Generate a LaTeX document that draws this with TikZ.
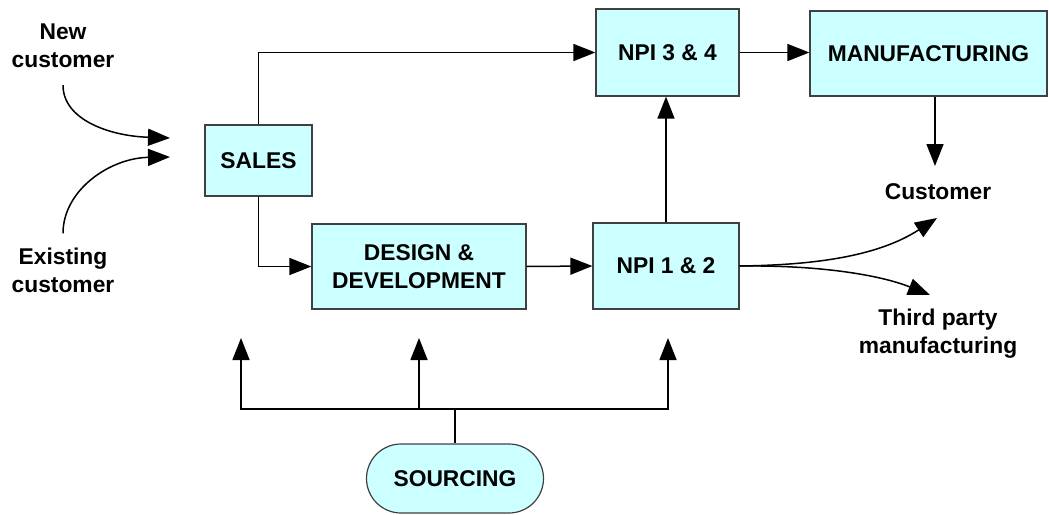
\documentclass[tikz,border=0pt]{standalone}
\usepackage{fontspec}
\setmainfont{Liberation Sans}
\usetikzlibrary{arrows.meta,shapes.misc}
\definecolor{boxfill}{HTML}{CCFFFF}
\definecolor{boxline}{HTML}{404040}
\tikzset{
  box/.style={draw=boxline, line width=1.2pt, fill=boxfill, inner sep=0pt, align=center,
    font=\fontsize{22.8}{28}\selectfont\bfseries},
  lbl/.style={inner sep=0pt, align=center, font=\fontsize{22.8}{28}\selectfont\bfseries},
  conn/.style={line width=1.5pt, draw=black},
  arr/.style={conn, -{Triangle[length=22pt,width=17pt]}},
}
\begin{document}
\begin{tikzpicture}[x=1pt,y=-1pt]
\useasboundingbox (0,0) rectangle (1049,514);
% boxes
\node[box, minimum width=107pt, minimum height=71pt] (sales) at (258.5,160.5) {SALES};
\node[box, minimum width=214pt, minimum height=85pt] (design) at (419,266.5) {DESIGN \&\\DEVELOPMENT};
\node[box, minimum width=146pt, minimum height=86pt] (npi12) at (666,266) {NPI 1 \& 2};
\node[box, minimum width=143pt, minimum height=87pt] (npi34) at (667.5,52.5) {NPI 3 \& 4};
\node[box, minimum width=237pt, minimum height=85pt] (manuf) at (928.5,53.5) {MANUFACTURING};
\node[box, rounded rectangle, minimum width=177pt, minimum height=69pt] (sourcing) at (455,478.5) {SOURCING};
% labels
\node[lbl] (newc) at (63,46) {New\\customer};
\node[lbl] (existc) at (63,270) {Existing\\customer};
\node[lbl] (customer) at (938,192) {Customer};
\node[lbl] (third) at (938,334) {Third party\\manufacturing};
% free ends
\coordinate (newtip) at (170,138);
\coordinate (exitip) at (170,157);
\coordinate (custtip) at (935,166);
\coordinate (c2tip) at (937,218);
\coordinate (thtip) at (930,295);
\coordinate (junc) at (455,409);
\coordinate (s1) at (241,338);
\coordinate (s2) at (419,338);
\coordinate (s3) at (668,338);
% connectors
\draw[arr] (newc.south) ++(0,17) .. controls (63,120) and (110,136) .. (newtip);
\draw[arr] (existc.north) ++(0,-14) .. controls (63,190) and (110,158) .. (exitip);
\draw[arr] (sales.north) |- (npi34.west);
\draw[arr] (sales.south) |- (design.west);
\draw[arr] (design.east) -- (npi12.west);
\draw[arr] (npi12.north) -- (npi12.north |- npi34.south);
\draw[arr] (npi34.east) -- (npi34.east -| manuf.west);
\draw[arr] (manuf.south -| custtip) -- (custtip);
\draw[arr] (npi12.east) .. controls (820,265) and (880,255) .. (c2tip);
\draw[arr] (npi12.east) .. controls (820,265) and (880,275) .. (thtip);
\draw[conn] (sourcing.north) -- (junc);
\draw[arr] (junc) -| (s1);
\draw[arr] (junc) -| (s2);
\draw[arr] (junc) -| (s3);
\end{tikzpicture}
\end{document}
